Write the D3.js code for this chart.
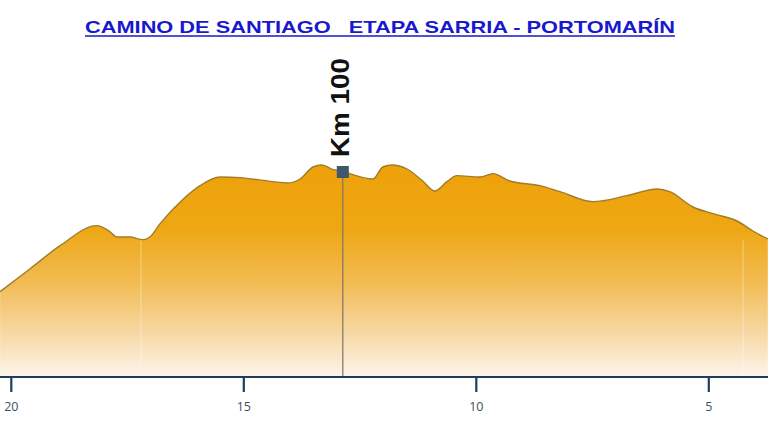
<!DOCTYPE html>
<html>
<head>
<meta charset="utf-8">
<script src="https://cdn.jsdelivr.net/npm/d3@7"></script>
<style>
  html, body { margin: 0; padding: 0; background: #fff; }
  svg { display: block; }
</style>
</head>
<body>
<div id="chart"></div>
<script>
  // Profile: km remaining to Santiago and elevation (m)
  var distances = [20.23, 19.59, 18.94, 18.15, 17.87, 17.72, 17.44, 17.16, 17.01, 16.79,
    16.29, 15.93, 15.50, 15.07, 14.36, 14.06, 13.78, 13.50, 13.31, 13.07,
    12.86, 12.71, 12.21, 12.00, 11.80, 11.48, 11.14, 10.88, 10.62, 10.41,
    9.91, 9.63, 9.27, 8.62, 8.19, 7.48, 6.75, 6.10, 5.83, 5.33,
    4.90, 4.38, 4.04, 3.72];
  var elevations = [428, 462, 497, 527, 518, 510, 510, 506, 510, 530,
    567, 587, 600, 599, 593, 591, 597, 615, 618, 611,
    609, 605, 597, 615, 618, 612, 594, 579, 593, 602,
    600, 605, 594, 587, 578, 563, 572, 582, 578, 555,
    545, 534, 519, 507];
  var tickValues = [20, 15, 10, 5];
  var faintLines = [17.2, 4.25];
  var marker = { km: 12.86, label: 'Km 100' };
  var title = 'CAMINO DE SANTIAGO\u00a0\u00a0\u00a0ETAPA SARRIA - PORTOMAR\u00cdN';

  var width = 768, height = 432;
  var axisY = 377;

  var svg = d3.select('#chart').append('svg')
    .attr('width', width)
    .attr('height', height);

  // distance counts down from left to right
  var x = d3.scaleLinear().domain([20, 5]).range([10.8, 708.3]);
  var y = d3.scaleLinear().domain([300, 660]).range([axisY, 137]);

  var profile = distances.map(function (d, i) { return { km: d, ele: elevations[i] }; });

  var grad = svg.append('defs').append('linearGradient')
    .attr('id', 'fillGrad')
    .attr('gradientUnits', 'userSpaceOnUse')
    .attr('x1', 0).attr('x2', 0)
    .attr('y1', 165).attr('y2', axisY);
  [[0, '#eda10a'], [0.3, '#eea713'], [0.55, '#f2bb52'], [0.8, '#f7d9a6'], [1, '#fdf5eb']]
    .forEach(function (s) {
      grad.append('stop').attr('offset', s[0]).attr('stop-color', s[1]);
    });

  var area = d3.area()
    .x(function (d) { return x(d.km); })
    .y0(axisY)
    .y1(function (d) { return y(d.ele); })
    .curve(d3.curveMonotoneX);

  var line = d3.line()
    .x(function (d) { return x(d.km); })
    .y(function (d) { return y(d.ele); })
    .curve(d3.curveMonotoneX);

  svg.append('path')
    .datum(profile)
    .attr('d', area)
    .attr('fill', 'url(#fillGrad)');

  // faint stage separators inside the fill
  svg.append('g').selectAll('line')
    .data(faintLines)
    .join('line')
    .attr('x1', function (d) { return x(d); })
    .attr('x2', function (d) { return x(d); })
    .attr('y1', 240).attr('y2', axisY)
    .attr('stroke', '#fff')
    .attr('stroke-opacity', 0.25)
    .attr('stroke-width', 1.5);

  svg.append('path')
    .datum(profile)
    .attr('d', line)
    .attr('fill', 'none')
    .attr('stroke', '#a07c26')
    .attr('stroke-width', 1.4);

  // Km 100 marker
  var mx = x(marker.km);
  svg.append('line')
    .attr('x1', mx).attr('x2', mx)
    .attr('y1', 172).attr('y2', axisY)
    .attr('stroke', '#7d7466')
    .attr('stroke-width', 1.2);
  svg.append('rect')
    .attr('x', mx - 6).attr('y', 166)
    .attr('width', 12).attr('height', 12)
    .attr('fill', '#3f566b');
  svg.append('text')
    .attr('transform', 'translate(' + (mx - 1) + ',157) rotate(-90)')
    .attr('dominant-baseline', 'middle')
    .attr('font-family', 'Liberation Sans, Arial, sans-serif')
    .attr('font-weight', 'bold')
    .attr('font-size', 26)
    .attr('textLength', 99)
    .attr('lengthAdjust', 'spacingAndGlyphs')
    .attr('fill', '#111')
    .text(marker.label);

  // x axis
  var axis = svg.append('g')
    .attr('transform', 'translate(0,' + axisY + ')')
    .call(d3.axisBottom(x).tickValues(tickValues).tickSize(15).tickPadding(10).tickSizeOuter(0));
  axis.select('.domain').remove();
  axis.insert('line', ':first-child')
    .attr('x1', 0).attr('x2', width)
    .attr('stroke', '#1f3d5c')
    .attr('stroke-width', 2.2);
  axis.selectAll('.tick line')
    .attr('stroke', '#1f3d5c')
    .attr('stroke-width', 2.2);
  axis.selectAll('.tick text')
    .attr('fill', '#3d4f60')
    .attr('font-family', 'Open Sans, sans-serif')
    .attr('font-size', 12.5);

  // title
  svg.append('text')
    .attr('x', 85).attr('y', 33)
    .attr('font-family', 'Liberation Sans, Arial, sans-serif')
    .attr('font-weight', 'bold')
    .attr('font-size', 16.5)
    .attr('textLength', 590)
    .attr('lengthAdjust', 'spacingAndGlyphs')
    .attr('fill', '#1818cc')
    .text(title);
  svg.append('line')
    .attr('x1', 85).attr('x2', 675)
    .attr('y1', 36).attr('y2', 36)
    .attr('stroke', '#1818cc')
    .attr('stroke-width', 1.3);
</script>
</body>
</html>
